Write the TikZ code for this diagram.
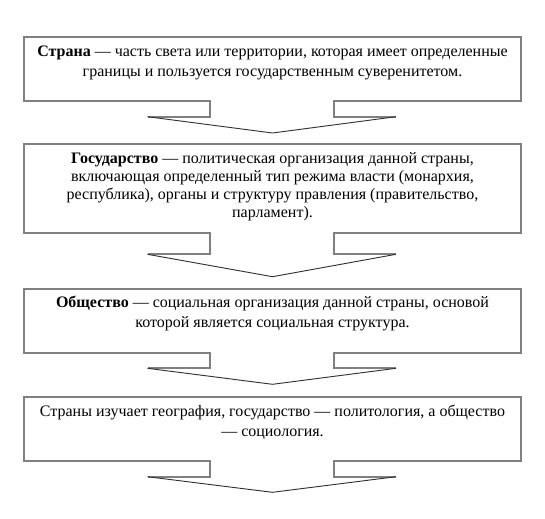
\documentclass[tikz,border=0pt]{standalone}
\usepackage{fontspec}
\setmainfont{Liberation Serif}
\newcommand{\mycallout}[5]{%
  % #1 name, #2 top, #3 box bottom, #4 stem bottom, #5 tip
  \coordinate (#1-tl) at (24,#2);
  \coordinate (#1-tr) at (520.5,#2);
  \coordinate (#1-bl) at (24,#3);
  \coordinate (#1-br) at (520.5,#3);
  \coordinate (#1-sl) at (210,#3);
  \coordinate (#1-sr) at (334,#3);
  \coordinate (#1-sbl) at (210,#4);
  \coordinate (#1-sbr) at (334,#4);
  \coordinate (#1-wl) at (147.5,#4);
  \coordinate (#1-wr) at (396,#4);
  \coordinate (#1-tip) at (272.5,#5);
  \draw[outline] (#1-wl) -- (#1-sbl) -- (#1-sl) -- (#1-bl) -- (#1-tl) -- (#1-tr)
     -- (#1-br) -- (#1-sr) -- (#1-sbr) -- (#1-wr);
  \draw[headline] (#1-wl) -- (#1-tip) -- (#1-wr);
}
\begin{document}
\begin{tikzpicture}[x=0.75pt,y=-0.75pt,
  outline/.style={draw=black!50, line width=1.5pt, line join=miter},
  headline/.style={draw=black!80, line width=0.7pt, line join=miter},
  txt/.style={anchor=base, inner sep=0pt, align=center, font=\fontsize{12}{15}\selectfont},
  txttight/.style={anchor=base, inner sep=0pt, align=center, font=\fontsize{12}{13.5}\selectfont}]
\fill[white] (0,0) rectangle (545,518);
\useasboundingbox (0,0) rectangle (545,518);

\mycallout{c1}{36.7}{100.7}{116.7}{133}
\mycallout{c2}{144.3}{232.5}{254.3}{276.7}
\mycallout{c3}{289}{352.8}{368.3}{384.3}
\mycallout{c4}{396.5}{461}{476.7}{492.3}

% base anchor = baseline of the last line
\node[txt] (t1) at (272.5,76) {\textbf{Страна} — часть света или территории, которая имеет определенные\\
границы и пользуется государственным суверенитетом.};
\node[txttight] (t2) at (272.5,217.3) {\textbf{Государство} — политическая организация данной страны,\\
включающая определенный тип режима власти (монархия,\\
республика), органы и структуру правления (правительство,\\
парламент).};
\node[txt] (t3) at (272.5,327.7) {\textbf{Общество} — социальная организация данной страны, основой\\
которой является социальная структура.};
\node[txt] (t4) at (272.5,436) {Страны изучает география, государство — политология, а общество\\
— социология.};
\end{tikzpicture}
\end{document}
